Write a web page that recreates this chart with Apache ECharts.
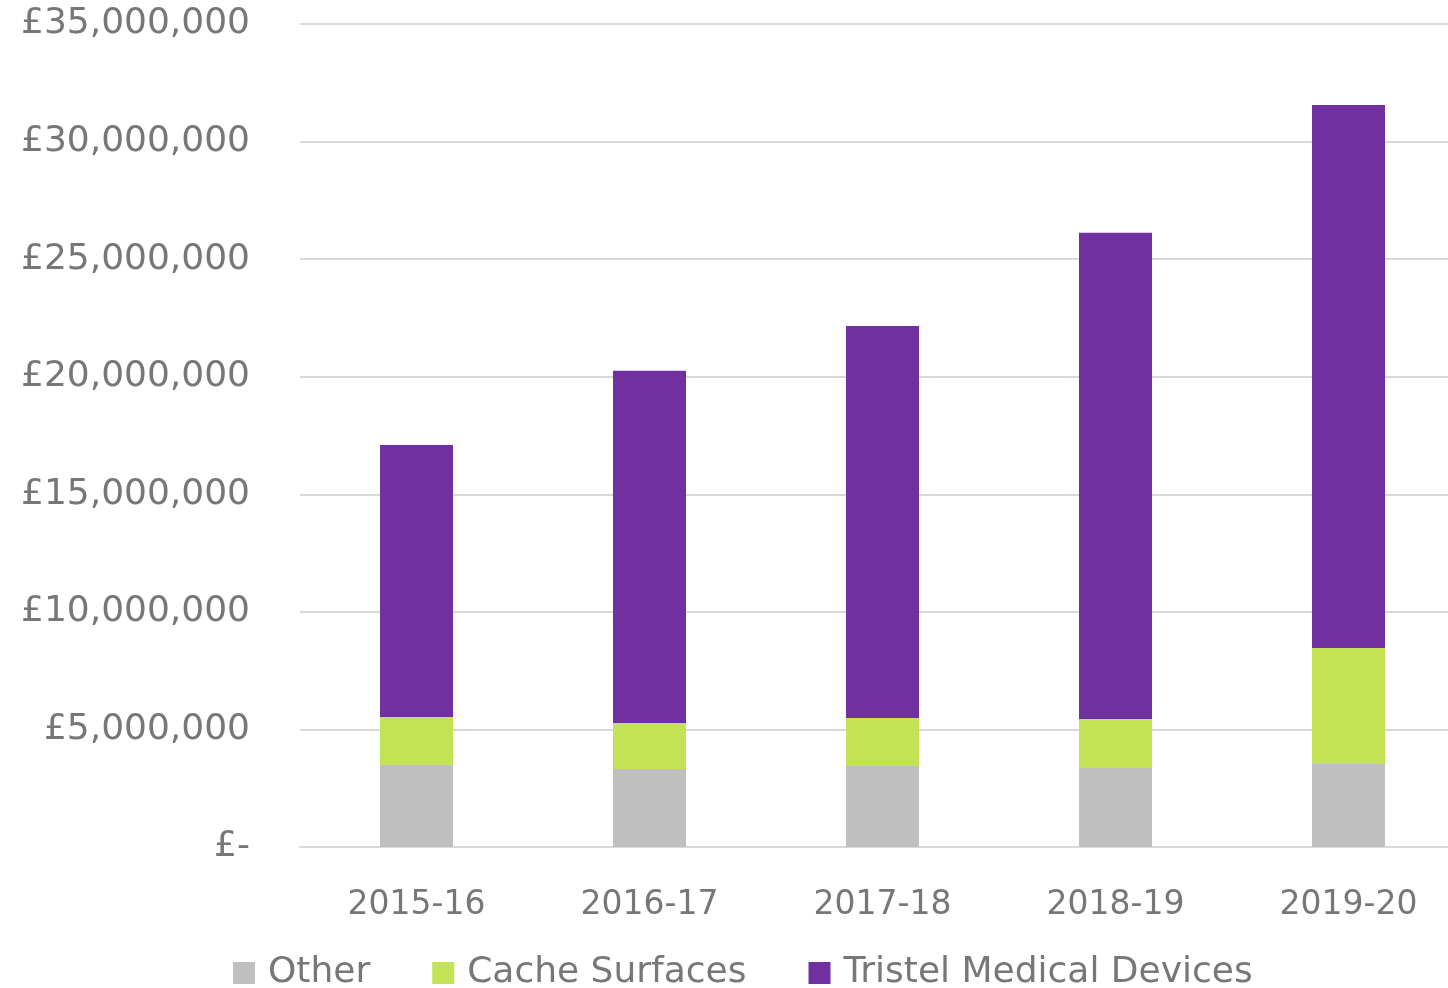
<!DOCTYPE html>
<html>
<head>
<meta charset="utf-8">
<script src="https://cdn.jsdelivr.net/npm/echarts@6/dist/echarts.min.js"></script>
<style>html,body{margin:0;padding:0;background:#fff;overflow:hidden;width:1448px;height:988px}#c{width:1465px;height:988px}</style>
</head>
<body>
<div id="c"></div>
<script>
const categories = ['2015-16', '2016-17', '2017-18', '2018-19', '2019-20'];
const otherValues = [3490000, 3320000, 3450000, 3360000, 3530000];
const cacheValues = [2040000, 1950000, 2040000, 2080000, 4930000];
const tristelValues = [11570000, 14980000, 16670000, 20680000, 23100000];
const seriesNames = ['Other', 'Cache Surfaces', 'Tristel Medical Devices'];

const font = '"DejaVu Sans", "Noto Sans", sans-serif';
const txt = '#777777';
function fmt(v) {
  if (v === 0) return '£-';
  return '£' + v.toLocaleString('en-GB');
}
const chart = echarts.init(document.getElementById('c'));
chart.setOption({
  animation: false,
  backgroundColor: '#fff',
  grid: { left: 300, top: 24, right: 0, bottom: 141, containLabel: false },
  legend: {
    data: seriesNames,
    left: 233, top: 955, padding: 0,
    itemWidth: 22, itemHeight: 22, itemGap: 62,
    icon: 'rect',
    textStyle: { fontFamily: font, fontSize: 36, color: txt, padding: [0, 0, 0, 8] }
  },
  xAxis: {
    type: 'category',
    data: categories,
    axisLine: { lineStyle: { color: '#d9d9d9', width: 2 } },
    axisTick: { show: false },
    axisLabel: { fontFamily: font, fontSize: 33, color: txt, margin: 42 }
  },
  yAxis: {
    type: 'value',
    min: 0, max: 35000000, interval: 5000000,
    axisLine: { show: false },
    axisTick: { show: false },
    splitLine: { lineStyle: { color: '#d9d9d9', width: 2 } },
    axisLabel: { fontFamily: font, fontSize: 36, color: txt, margin: 50, formatter: fmt }
  },
  series: [
    { name: seriesNames[0], type: 'bar', stack: 't', data: otherValues, barWidth: 73, itemStyle: { color: '#bfbfbf' } },
    { name: seriesNames[1], type: 'bar', stack: 't', data: cacheValues, barWidth: 73, itemStyle: { color: '#c3e256' } },
    { name: seriesNames[2], type: 'bar', stack: 't', data: tristelValues, barWidth: 73, itemStyle: { color: '#7030a0' } }
  ]
});
</script>
</body>
</html>
